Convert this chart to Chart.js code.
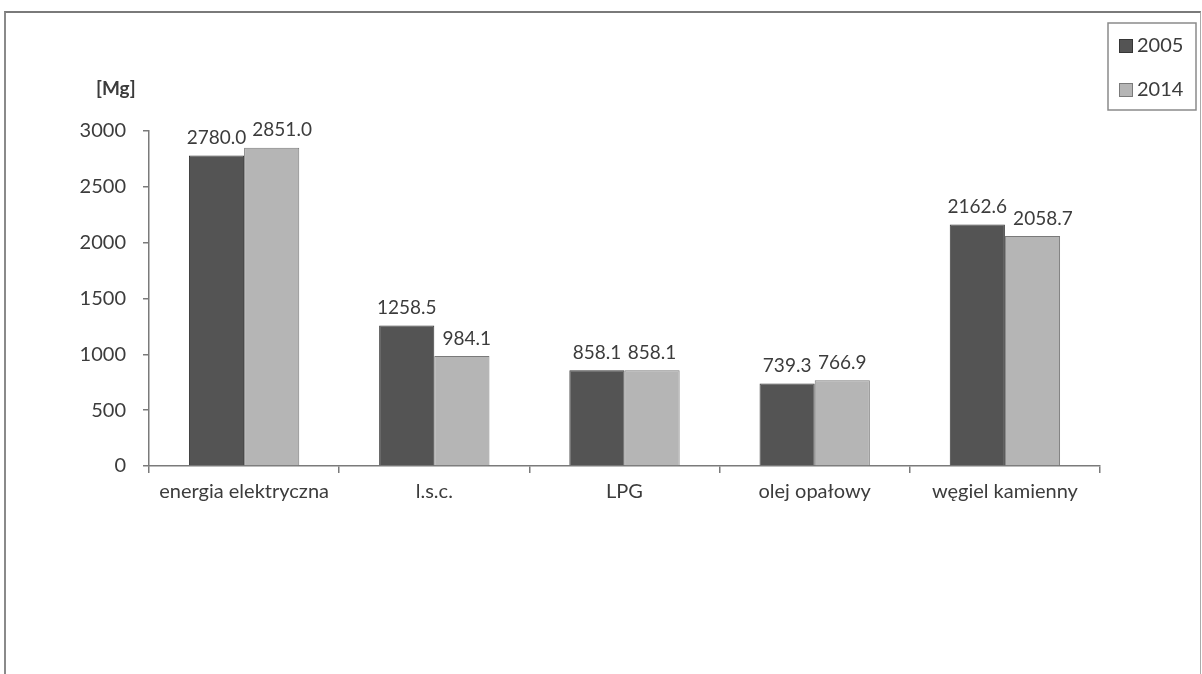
<!DOCTYPE html>
<html>
<head>
<meta charset="utf-8">
<script src="https://cdn.jsdelivr.net/npm/chart.js@4"></script>
<style>
  html, body { margin: 0; padding: 0; background: #fff; }
  #wrap { position: relative; width: 1202px; height: 674px; }
  #frame {
    position: absolute; left: 4px; top: 11px; width: 1194px; height: 680px;
    border-left: 2px solid #8a8a8a; border-top: 2px solid #7a7a7a; border-right: 1px solid #aaa;
  }
  canvas { position: absolute; left: 0; top: 0; }
</style>
</head>
<body>
<div id="wrap">
  <div id="frame"></div>
  <canvas id="chart" width="1202" height="674"></canvas>
</div>
<script>
// data
const categories = ['energia elektryczna', 'l.s.c.', 'LPG', 'olej opałowy', 'węgiel kamienny'];
const values2005 = [2780.0, 1258.5, 858.1, 739.3, 2162.6];
const values2014 = [2851.0, 984.1, 858.1, 766.9, 2058.7];
const seriesLabels = ['2005', '2014'];
const yTicks = [0, 500, 1000, 1500, 2000, 2500, 3000];
const unitLabel = '[Mg]';

const FONT = 'Lato, "Liberation Sans", sans-serif';
const TEXT = '#3c3c3c';
const AXIS = '#7a7a7a';

// value labels, unit label and the boxed legend
const extrasPlugin = {
  id: 'extras',
  afterDatasetsDraw(chart) {
    const ctx = chart.ctx;
    ctx.save();
    ctx.fillStyle = TEXT;
    ctx.font = '19px ' + FONT;
    ctx.textAlign = 'center';
    ctx.textBaseline = 'bottom';
    const n = chart.data.labels.length;
    for (let j = 0; j < n; j++) {
      let prevRight = -Infinity;
      chart.data.datasets.forEach((ds, i) => {
        const bar = chart.getDatasetMeta(i).data[j];
        const txt = ds.data[j].toFixed(1);
        const w = ctx.measureText(txt).width;
        let x = bar.x;
        // push a label right when it would run into its neighbour
        if (x - w / 2 < prevRight + 6) x = prevRight + 6 + w / 2;
        ctx.fillText(txt, x, bar.y - 8);
        prevRight = x + w / 2;
      });
    }

    // unit over the y axis
    ctx.font = 'bold 19px ' + FONT;
    ctx.textAlign = 'left';
    ctx.textBaseline = 'middle';
    ctx.fillText(unitLabel, 96, 89);

    // legend
    ctx.strokeStyle = '#8a8a8a';
    ctx.lineWidth = 1.5;
    ctx.strokeRect(1108, 23, 88, 87);
    ctx.font = '20px ' + FONT;
    chart.data.datasets.forEach((ds, i) => {
      const y = 46 + i * 44;
      ctx.fillStyle = ds.backgroundColor;
      ctx.fillRect(1119, y - 7, 14, 14);
      ctx.strokeStyle = ds.borderColor;
      ctx.lineWidth = 1;
      ctx.strokeRect(1119.5, y - 6.5, 13, 13);
      ctx.fillStyle = TEXT;
      ctx.fillText(ds.label, 1137, y);
    });
    ctx.restore();
  }
};

new Chart(document.getElementById('chart'), {
  type: 'bar',
  data: {
    labels: categories,
    datasets: [
      {
        label: seriesLabels[0],
        data: values2005,
        backgroundColor: '#545454',
        borderColor: '#363636',
        borderWidth: 1,
        categoryPercentage: 0.58,
        barPercentage: 1.0
      },
      {
        label: seriesLabels[1],
        data: values2014,
        backgroundColor: '#b5b5b5',
        borderColor: '#7a7a7a',
        borderWidth: 1,
        categoryPercentage: 0.58,
        barPercentage: 1.0
      }
    ]
  },
  options: {
    responsive: false,
    animation: false,
    layout: {
      padding: { top: 131, right: 102, bottom: 168, left: 0 }
    },
    plugins: {
      legend: { display: false },
      tooltip: { enabled: false },
      title: { display: false }
    },
    scales: {
      x: {
        grid: {
          offset: true,
          drawOnChartArea: false,
          tickLength: 7,
          color: AXIS,
          lineWidth: 1.5
        },
        border: { display: true, color: AXIS, width: 1.5 },
        ticks: {
          color: TEXT,
          padding: 7,
          font: { family: FONT, size: 20 }
        },
        afterFit(scale) { scale.height = 40; }
      },
      y: {
        min: 0,
        max: 3000,
        afterBuildTicks(scale) {
          scale.ticks = yTicks.map(v => ({ value: v }));
        },
        grid: {
          drawOnChartArea: false,
          tickLength: 6,
          color: AXIS,
          lineWidth: 1.5
        },
        border: { display: true, color: AXIS, width: 1.5 },
        ticks: {
          color: TEXT,
          padding: 17,
          font: { family: FONT, size: 20 },
          callback: v => String(v)
        },
        afterFit(scale) { scale.width = 149; }
      }
    }
  },
  plugins: [extrasPlugin]
});
</script>
</body>
</html>
